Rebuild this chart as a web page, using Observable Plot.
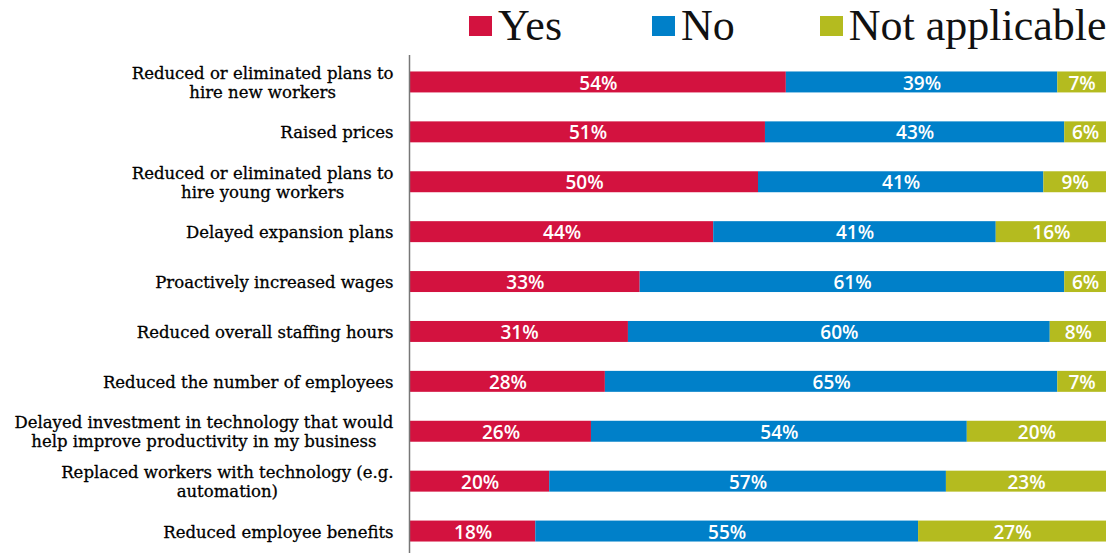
<!DOCTYPE html>
<html>
<head>
<meta charset="utf-8">
<script src="https://cdn.jsdelivr.net/npm/d3@7"></script>
<script src="https://cdn.jsdelivr.net/npm/@observablehq/plot@0.6"></script>
<style>
  body { margin: 0; background: #fff; }
  #wrap { position: relative; width: 1112px; height: 553px; overflow: hidden; }
  #legend { position: absolute; left: 469px; top: 1px; height: 50px; display: flex; align-items: center;
            font-family: "Liberation Serif", "Times New Roman", serif; font-size: 44px; color: #111; line-height: 1; }
  #legend .item { display: flex; align-items: center; margin-right: 90px; }
  #legend .item:nth-child(2) { margin-right: 85px; }
  #legend .item:last-child { margin-right: 0; }
  #legend .sw { width: 23px; height: 20px; margin-right: 6px; }
</style>
</head>
<body>
<div id="wrap"><div id="legend"></div></div>
<script>
const items = [
  "Reduced or eliminated plans to\nhire new workers",
  "Raised prices",
  "Reduced or eliminated plans to\nhire young workers",
  "Delayed expansion plans",
  "Proactively increased wages",
  "Reduced overall staffing hours",
  "Reduced the number of employees",
  "Delayed investment in technology that would\nhelp improve productivity in my business",
  "Replaced workers with technology (e.g.\nautomation)",
  "Reduced employee benefits"
];
const answers = ["Yes", "No", "Not applicable"];
const colors = ["#d3123f", "#0080c9", "#b4bb1f"];
const yesValues = [54, 51, 50, 44, 33, 31, 28, 26, 20, 18];
const noValues  = [39, 43, 41, 41, 61, 60, 65, 54, 57, 55];
const naValues  = [7, 6, 9, 16, 6, 8, 7, 20, 23, 27];

const series = [yesValues, noValues, naValues];
const rows = items.flatMap((item, i) =>
  answers.map((answer, j) => ({item, answer, value: series[j][i]})));

// legend
const legend = d3.select("#legend");
answers.forEach((a, j) => {
  const it = legend.append("div").attr("class", "item");
  it.append("div").attr("class", "sw").style("background", colors[j]);
  it.append("span").text(a);
});

const stackOpts = {x: "value", y: "item", z: "answer", offset: "normalize", order: answers};

const chart = Plot.plot({
  width: 1112,
  height: 553,
  marginTop: 55,
  marginBottom: 0,
  marginLeft: 410,
  marginRight: 6,
  x: {domain: [0, 1], axis: null},
  y: {domain: items, range: [57, 556], paddingInner: 0.58, paddingOuter: 0.29, round: false, axis: null},
  color: {domain: answers, range: colors},
  marks: [
    Plot.barX(rows, Plot.stackX({...stackOpts, fill: "answer"})),
    Plot.text(rows, Plot.stackX({...stackOpts, text: d => d.value + "%",
      fill: "white", fontSize: 19, fontWeight: 600, letterSpacing: 1,
      fontFamily: "'Open Sans', sans-serif", dy: 1})),
    Plot.text(items, {x: 0, y: d => d, text: d => d, textAnchor: "end", dx: -17,
      lineHeight: 1.15, fontSize: 16.5, fill: "#000", stroke: "#000", strokeWidth: 0.3,
      fontFamily: "'DejaVu Serif', serif", className: "ylab"}),
    Plot.ruleX([0], {stroke: "#777", strokeWidth: 1.5, dx: -1})
  ]
});
document.getElementById("wrap").appendChild(chart);

// center multi-line labels within their own block, keeping right alignment
document.querySelectorAll(".ylab text").forEach(t => {
  const w = t.getBBox().width;
  t.setAttribute("text-anchor", "middle");
  t.setAttribute("transform", (t.getAttribute("transform") || "") + ` translate(${-w / 2},0)`);
});
</script>
</body>
</html>
